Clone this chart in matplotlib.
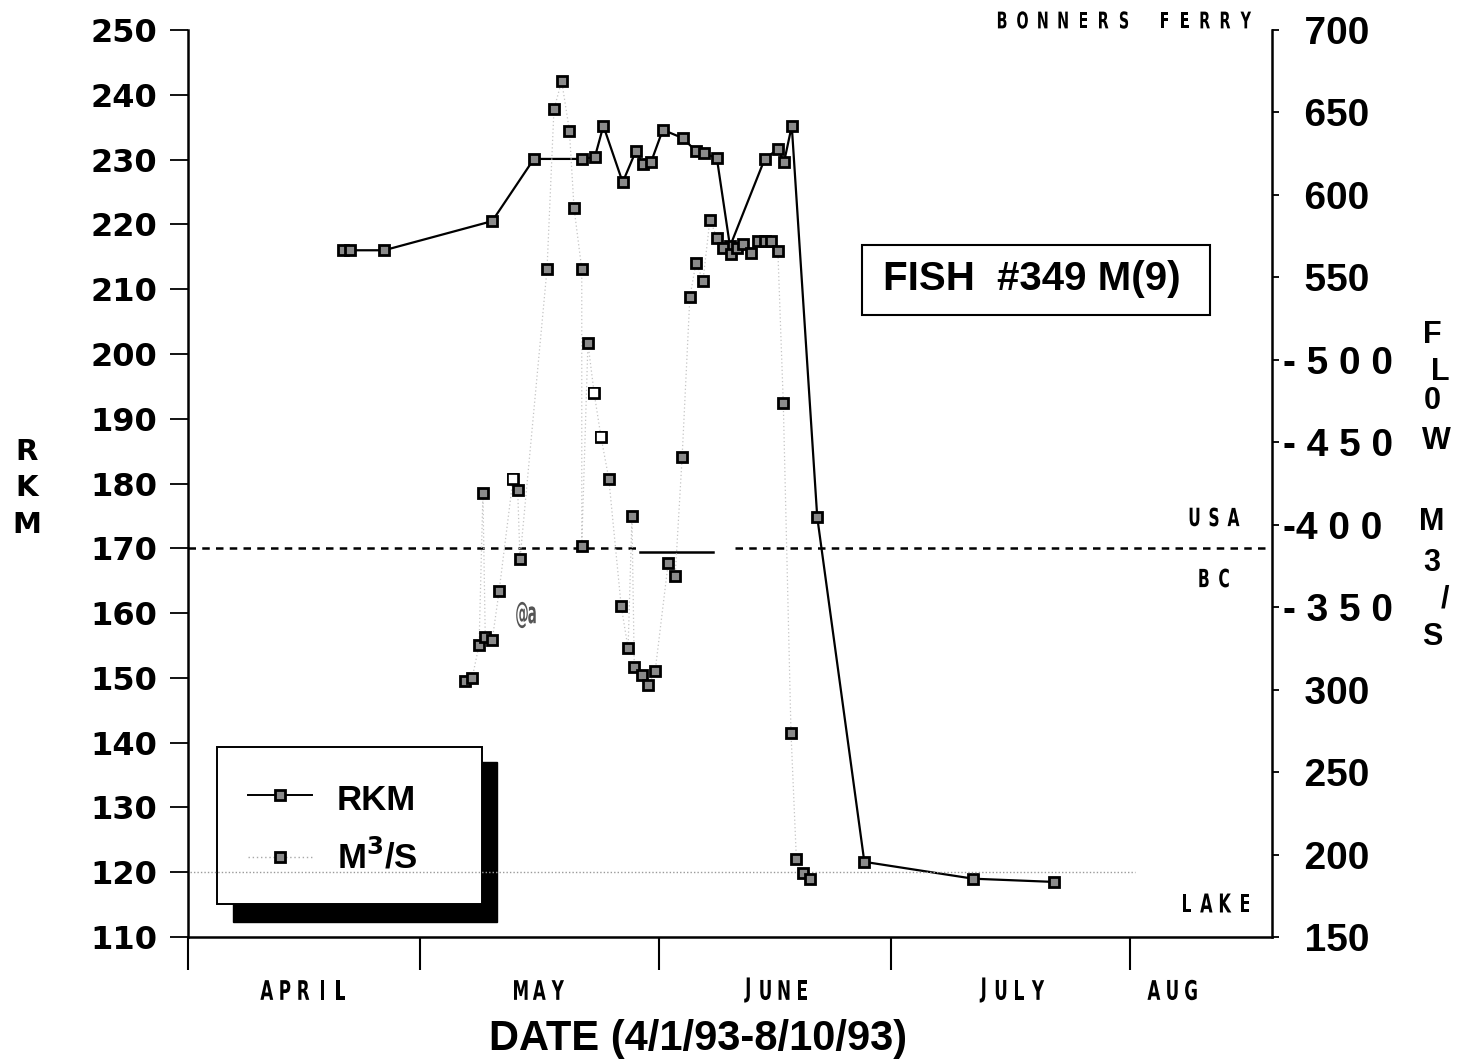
import matplotlib
matplotlib.use("Agg")
import matplotlib.pyplot as plt
from matplotlib.patches import Rectangle, PathPatch
from matplotlib.lines import Line2D
from matplotlib.textpath import TextPath
from matplotlib.font_manager import FontProperties
from matplotlib.transforms import Affine2D, IdentityTransform

# ── fish #349 track, days counted from 4/1/93 ─────────────
rkm_day = [20.1, 21.0, 25.4, 39.4, 44.8, 51.0, 52.7, 53.8, 56.3, 58.0,
           58.9, 60.0, 61.5, 64.1, 65.8, 66.8, 68.5, 70.2, 74.7, 76.4,
           77.2, 78.2, 81.5, 87.6, 101.7, 112.2]
rkm_val = [216.0, 216.0, 216.0, 220.5, 230.1, 230.1, 230.4, 235.2, 226.5, 231.3,
           229.3, 229.7, 234.6, 233.3, 231.3, 231.0, 230.2, 216.6, 230.1, 231.6,
           229.6, 235.2, 174.8, 121.6, 119.0, 118.5]

# ── river flow (m3/s) ─────────────────────────────────────
flow_day = [35.9, 36.8, 37.7, 38.2, 38.5, 39.4, 40.3, 42.1, 42.7, 43.0,
            46.5, 47.4, 48.4, 49.4, 50.0, 51.0, 51.0, 51.8, 52.6, 53.5,
            54.5, 56.1, 57.0, 57.5, 57.8, 58.8, 59.6, 60.5, 62.2, 63.1,
            64.0, 65.0, 65.8, 66.7, 67.6, 68.5, 69.3, 70.3, 71.1, 71.9,
            72.9, 73.8, 74.7, 75.5, 76.4, 77.1, 78.1, 78.8, 79.7, 80.6]
flow_val = [305, 307, 327, 419, 332, 330, 360, 428, 421, 379,
            555, 652, 669, 639, 592, 555, 387, 510, 480, 453,
            428, 351, 325, 405, 314, 309, 303, 311, 377, 369,
            441, 538, 559, 548, 585, 574, 568, 564, 568, 570,
            565, 572, 572, 572, 566, 474, 274, 197, 189, 185]
flow_hollow = [7, 18, 19]   # readings drawn as open squares

rkm_ticks = list(range(110, 251, 10))
flow_ticks = [150, 200, 250, 300, 350, 400, 450, 500, 550, 600, 650, 700]
flow_tick_labels = ["  150", "  200", "  250", "  300", "- 3 5 0", "-4 0 0",
                    "- 4 5 0", "- 5 0 0", "  550", "  600", "  650", "  700"]

month_start = [0, 30, 61, 91, 122]
month_mid = [15, 45.5, 76, 106.5, 127.5]
month_names = ["APRIL", "MAY", "JUNE", "JULY", "AUG"]

border_rkm = 170      # USA / BC
lake_rkm = 120
border_solid = (58.5, 68.0)

ARIAL = "Liberation Sans"

W, H = 1465, 1060
AX_L, AX_R, AX_T, AX_B = 188, 1272, 30, 937


def frac(x, y):
    # pixel position -> axes fraction
    return (x - AX_L) / (AX_R - AX_L), (AX_B - y) / (AX_B - AX_T)


fig = plt.figure(figsize=(W / 100, H / 100), dpi=100)
ax = fig.add_axes([AX_L / W, (H - AX_B) / H, (AX_R - AX_L) / W, (AX_B - AX_T) / H])
ax2 = ax.twinx()


def narrow_text(xc, yc, s, em, pitch, squeeze=0.62, color="black"):
    # condensed, letter-spaced caps centred on (xc, yc), pixels from top-left
    prop = FontProperties(family="DejaVu Sans", weight="bold")
    n = len(s)
    for i, ch in enumerate(s):
        if ch == " ":
            continue
        tp = TextPath((0, 0), ch, size=em, prop=prop)
        bb = tp.get_extents()
        cx = xc + (i - (n - 1) / 2) * pitch
        tr = (Affine2D().translate(-(bb.x0 + bb.x1) / 2, -(bb.y0 + bb.y1) / 2)
              .scale(squeeze, 1).translate(cx, H - yc))
        fig.add_artist(PathPatch(tr.transform_path(tp), transform=IdentityTransform(),
                                 facecolor=color, edgecolor="none"))


ax.set_xlim(0, 140.4)
ax.set_ylim(110, 250)
ax2.set_ylim(150, 700)

for s in ["top", "right"]:
    ax.spines[s].set_visible(False)
for s in ["top", "left", "bottom"]:
    ax2.spines[s].set_visible(False)
for sp in (ax.spines["left"], ax.spines["bottom"], ax2.spines["right"]):
    sp.set_linewidth(1.8)

# left axis
ax.set_yticks(rkm_ticks, [str(t) for t in rkm_ticks], fontsize=23,
              fontweight="bold", family="DejaVu Sans")
ax.tick_params(axis="y", direction="out", length=13, width=1.3, pad=9)

# month separators
ax.set_xticks(month_start, [""] * len(month_start))
ax.tick_params(axis="x", which="major", direction="out", length=24, width=1.5)

# right axis
ax2.set_yticks(flow_ticks, flow_tick_labels, fontsize=28, fontweight="bold", family=ARIAL)
ax2.tick_params(axis="y", direction="out", length=5, width=1.3, pad=3)

# reference lines
ax.plot([0, border_solid[0]], [border_rkm, border_rkm], color="black",
        lw=1.8, ls=(0, (3, 2.5)), zorder=2)
ax.plot(border_solid, [border_rkm - 0.5] * 2, color="black", lw=1.8, zorder=2)
ax.plot([border_solid[1] + 2.8, 139.5], [border_rkm, border_rkm], color="black",
        lw=1.8, ls=(0, (3, 2.5)), zorder=2)
ax.plot([0.3, 122.7], [lake_rkm, lake_rkm], color="#9a9a9a", lw=1.0,
        ls=(0, (1, 1.5)), zorder=8)

# RKM track
ax.plot(rkm_day, rkm_val, color="black", lw=1.6, marker="s", ms=6.5,
        mfc="#8a8a8a", mec="black", mew=2.0, zorder=4)

# flow
ax2.plot(flow_day, flow_val, color="#c4c4c4", lw=0.9, ls=(0, (1, 2)),
         marker="s", ms=6.5, mfc="#8a8a8a", mec="black", mew=2.0, zorder=4)
ax2.plot([flow_day[i] for i in flow_hollow], [flow_val[i] for i in flow_hollow],
         ls="none", marker="s", ms=6.5, mfc="white", mec="black", mew=1.2, zorder=5)

# legend box with drop shadow
x0, y0 = frac(233, 922)
x1, y1 = frac(497, 762)
ax.add_patch(Rectangle((x0, y0), x1 - x0, y1 - y0, transform=ax.transAxes,
                       facecolor="black", edgecolor="black", zorder=6, clip_on=False))
x0, y0 = frac(217, 904)
x1, y1 = frac(482, 747)
ax.add_patch(Rectangle((x0, y0), x1 - x0, y1 - y0, transform=ax.transAxes,
                       facecolor="white", edgecolor="black", lw=1.4, zorder=7, clip_on=False))
a, ya = frac(248, 795)
b, _ = frac(312, 795)
m, _ = frac(280, 795)
ax.add_line(Line2D([a, b], [ya, ya], transform=ax.transAxes, color="black", lw=1.4, zorder=8))
ax.add_line(Line2D([m], [ya], transform=ax.transAxes, marker="s", ms=6.5, mfc="#8a8a8a",
                   mec="black", mew=2.0, zorder=9))
a, yb = frac(248, 857)
ax.add_line(Line2D([a, b], [yb, yb], transform=ax.transAxes, color="#a8a8a8", lw=1.0,
                   ls=(0, (1, 2)), zorder=8))
ax.add_line(Line2D([m], [yb], transform=ax.transAxes, marker="s", ms=6.5, mfc="#8a8a8a",
                   mec="black", mew=2.0, zorder=9))
tx, _ = frac(337, 0)
ax.text(tx, frac(0, 800)[1], "RKM", transform=ax.transAxes, fontsize=25,
        fontweight="bold", family=ARIAL, va="center", ha="left", zorder=9)
ax.text(tx, frac(0, 857)[1], "M$^\\mathbf{3}$/S", transform=ax.transAxes, fontsize=25,
        fontweight="bold", family=ARIAL, va="center", ha="left", zorder=9)

# fish id box
x0, y0 = frac(862, 315)
x1, y1 = frac(1210, 245)
ax.add_patch(Rectangle((x0, y0), x1 - x0, y1 - y0, transform=ax.transAxes,
                       facecolor="white", edgecolor="black", lw=1.5, zorder=7))
cx, cy = frac(1032, 279)
ax.text(cx, cy, "FISH  #349 M(9)", transform=ax.transAxes, fontsize=29,
        fontweight="bold", family=ARIAL, ha="center", va="center", zorder=8)

# month names centred in each month
for mid, name in zip(month_mid, month_names):
    xm = ax.transData.transform((mid, 110))[0]
    narrow_text(xm, 990, name, em=27, pitch=18.5)

# place names
narrow_text(1214, 517, "USA", em=25, pitch=19.5)
narrow_text(1214, 578, "BC", em=25, pitch=20)
narrow_text(1216, 903, "LAKE", em=26, pitch=19.3)
narrow_text(1124, 20, "BONNERS FERRY", em=23, pitch=20.3)
narrow_text(527, 615, "@a", em=30, pitch=10, squeeze=0.45, color="#555555")

# axis titles
for ch, (px, py) in zip("RKM", [(27, 452), (27, 488), (27, 525)]):
    fig.text(px / W, 1 - py / H, ch, fontsize=21, fontweight="bold",
             family="DejaVu Sans", ha="center", va="center")
for ch, (px, py) in zip("FL0WM3/S", [(1432, 335), (1440, 372), (1432, 401), (1436, 441),
                                     (1432, 522), (1432, 563), (1445, 600), (1432, 637)]):
    fig.text(px / W, 1 - py / H, ch, fontsize=22, fontweight="bold",
             family=ARIAL, ha="center", va="center")

fig.text(698 / W, 1 - 1039 / H, "DATE (4/1/93-8/10/93)", fontsize=30,
         fontweight="bold", family=ARIAL, ha="center", va="center")

fig.savefig("out.png", dpi=100)
